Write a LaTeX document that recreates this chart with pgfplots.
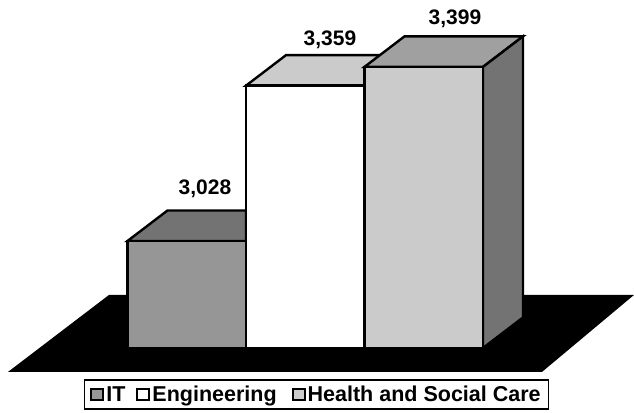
\documentclass[border=0pt]{standalone}
\usepackage{fontspec}
\setmainfont{Liberation Sans}
\usepackage{pgfplots}
\pgfplotsset{compat=1.18}
\definecolor{itf}{HTML}{969696}
\definecolor{itt}{HTML}{737373}
\definecolor{ent}{HTML}{CBCBCB}
\definecolor{hef}{HTML}{CBCBCB}
\definecolor{het}{HTML}{A0A0A0}
\definecolor{hes}{HTML}{737373}
\begin{document}
\begin{tikzpicture}
\begin{axis}[
  scale only axis, width=634pt, height=412pt,
  xmin=0, xmax=634, ymin=2663.6, ymax=3541.5,
  axis lines=none, clip=false,
  legend columns=3,
  legend style={at={(axis cs:316.5,2701)}, anchor=center, draw=black, line width=1.2pt,
    font=\fontsize{21.5}{23}\selectfont\bfseries, inner xsep=5.5pt, inner ysep=3pt,
    /tikz/column 2/.style={column sep=9pt},
    /tikz/column 4/.style={column sep=13pt},
    nodes={inner xsep=2pt, inner ysep=3pt}},
  legend image code/.code={\draw[#1,line width=2pt] (0pt,-5.5pt) rectangle (12pt,5.5pt);},
  every axis plot/.append style={line join=miter, line width=2.4pt, draw=black},
]
\path (rel axis cs:0,0) rectangle (rel axis cs:1,1);
% floor
\addplot[fill=black, draw=none, forget plot] coordinates {(8,2749) (109,2913) (634,2913) (542,2749)} -- cycle;
% IT
\addplot[fill=itt, forget plot] coordinates {(127.5,3028) (167.5,3093) (246,3093) (246,3028)} -- cycle;
\addplot[fill=itf] coordinates {(127.5,2800) (127.5,3028) (246,3028) (246,2800)} -- cycle;
\addlegendentry{IT}
% Engineering
\addplot[fill=ent, forget plot] coordinates {(246,3359) (286,3424) (404.5,3424) (364.5,3359)} -- cycle;
\addplot[fill=white] coordinates {(246,2800) (246,3359) (364.5,3359) (364.5,2800)} -- cycle;
\addlegendentry{Engineering}
% Health and Social Care
\addplot[fill=het, forget plot] coordinates {(364.5,3399) (404.5,3464) (523,3464) (483,3399)} -- cycle;
\addplot[fill=hes, forget plot] coordinates {(483,2800) (483,3399) (523,3464) (523,2865)} -- cycle;
\addplot[fill=hef] coordinates {(364.5,2800) (364.5,3399) (483,3399) (483,2800)} -- cycle;
\addlegendentry{Health and Social Care}
\node[font=\fontsize{21}{23}\selectfont\bfseries] at (axis cs:205,3140) {3,028};
\node[font=\fontsize{21}{23}\selectfont\bfseries] at (axis cs:330,3457) {3,359};
\node[font=\fontsize{21}{23}\selectfont\bfseries] at (axis cs:455,3501) {3,399};
\end{axis}
\end{tikzpicture}
\end{document}
